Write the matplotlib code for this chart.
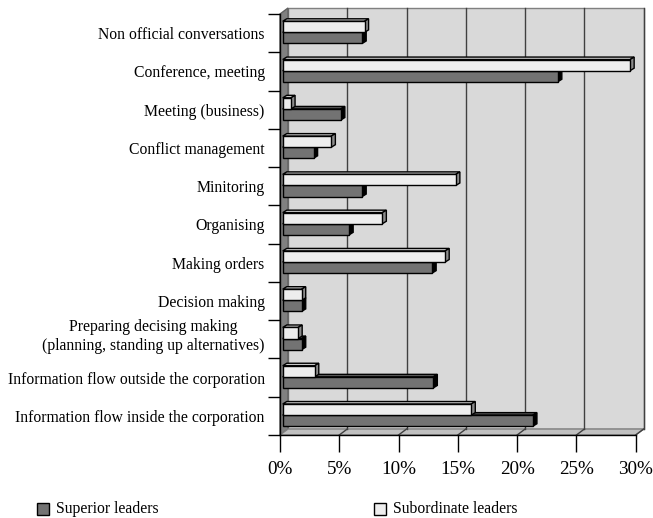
import matplotlib
matplotlib.use("Agg")
import matplotlib.pyplot as plt
from matplotlib.patches import Polygon, Rectangle
from matplotlib.transforms import ScaledTranslation

plt.rcParams["font.family"] = ["Liberation Serif", "DejaVu Serif"]

# categories listed bottom -> top (as drawn on the y axis)
categories = [
    "Information flow inside the corporation",
    "Information flow outside the corporation",
    "Preparing decising making\n(planning, standing up alternatives)",
    "Decision making",
    "Making orders",
    "Organising",
    "Minitoring",
    "Conflict management",
    "Meeting (business)",
    "Conference, meeting",
    "Non official conversations",
]
superior = [21.1, 12.7, 1.6, 1.6, 12.6, 5.6, 6.7, 2.6, 4.9, 23.2, 6.7]
subordinate = [15.9, 2.7, 1.3, 1.6, 13.7, 8.4, 14.6, 4.1, 0.7, 29.3, 6.9]
xticks = [0, 5, 10, 15, 20, 25, 30]

W, H = 653, 518
fig = plt.figure(figsize=(W / 100, H / 100), dpi=100)
ax = fig.add_axes([280 / W, 83 / H, 355.7 / W, 421 / H])
ax.set_xlim(0, 30)
ax.set_ylim(-0.5, len(categories) - 0.5)
ymin, ymax = -0.5, len(categories) - 0.5

# 3d depth of the walls (data units)
ddx, ddy = 0.675, 0.157
wall_edge = "#808080"

# back wall, left wall, floor
ax.add_patch(Polygon([(ddx, ymin + ddy), (30 + ddx, ymin + ddy), (30 + ddx, ymax + ddy), (ddx, ymax + ddy)],
                     closed=True, fc="#d9d9d9", ec=wall_edge, lw=1, clip_on=False, zorder=1))
ax.add_patch(Polygon([(0, ymin), (ddx, ymin + ddy), (ddx, ymax + ddy), (0, ymax)],
                     closed=True, fc="#808080", ec="#606060", lw=1, clip_on=False, zorder=1))
ax.add_patch(Polygon([(0, ymin), (30, ymin), (30 + ddx, ymin + ddy), (ddx, ymin + ddy)],
                     closed=True, fc="#c0c0c0", ec=wall_edge, lw=1, clip_on=False, zorder=1))
for t in xticks[1:]:
    ax.plot([t + ddx, t + ddx], [ymin + ddy, ymax + ddy], color="#404040", lw=1, zorder=1.5, clip_on=False)
    ax.plot([t, t + ddx], [ymin, ymin + ddy], color="#404040", lw=1, zorder=1.5, clip_on=False)

X0 = 0.23           # bars start slightly behind the front plane
BX, BY = 0.34, 0.065  # bar depth


def bar3d(y0, h, vals, front, top, side, z):
    for i, val in enumerate(vals):
        yb = i + y0
        x1 = X0 + val
        kw = dict(closed=True, ec="black", lw=1, clip_on=False, zorder=z, joinstyle="miter")
        ax.add_patch(Polygon([(X0, yb + h), (x1, yb + h), (x1 + BX, yb + h + BY), (X0 + BX, yb + h + BY)], fc=top, **kw))
        ax.add_patch(Polygon([(x1, yb), (x1 + BX, yb + BY), (x1 + BX, yb + h + BY), (x1, yb + h)], fc=side, **kw))
    ax.barh([i + y0 for i in range(len(vals))], vals, height=h, left=X0, align="edge",
            color=front, edgecolor="black", linewidth=1, zorder=z + 0.5)


bh = 0.29
bar3d(-0.27, bh, superior, "#737373", "#5a5a5a", "#000000", 3)
# white bars drawn above so they hide the grey bars' top faces
bar3d(0.02, bh, subordinate, "#eeeeee", "#c8c8c8", "#8c8c8c", 4)

# axes, ticks, labels
for s in ["top", "right"]:
    ax.spines[s].set_visible(False)
for s in ["left", "bottom"]:
    ax.spines[s].set_color("black")
    ax.spines[s].set_linewidth(1)
    ax.spines[s].set_zorder(2)
ax.set_xlim(0, 30)
ax.set_ylim(-0.5, len(categories) - 0.5)
ax.set_xticks(xticks)
ax.set_xticklabels([f"{t}%" for t in xticks], fontsize=13.8)
ax.tick_params(axis="x", direction="out", length=12, width=1, pad=7)
ax.set_yticks([k - 0.5 for k in range(len(categories) + 1)])
ax.set_yticklabels([])
ax.tick_params(axis="y", which="major", direction="out", length=9, width=1)
ax.set_yticks(range(len(categories)), minor=True)
ax.set_yticklabels(categories, minor=True, fontsize=11.3)
ax.tick_params(axis="y", which="minor", length=0, pad=11)
for lab in ax.get_yticklabels(minor=True):
    lab.set_multialignment("center")
    if "\n" in lab.get_text():
        lab.set_transform(lab.get_transform() + ScaledTranslation(0, 6 / 100, fig.dpi_scale_trans))
ax.set_facecolor("none")

# legend
for sx, tx, col, name in [(37, 56, "#737373", "Superior leaders"), (374, 393, "#eeeeee", "Subordinate leaders")]:
    fig.add_artist(Rectangle((sx / W, (H - 515) / H), 12 / W, 12 / H, transform=fig.transFigure,
                             fc=col, ec="black", lw=1))
    fig.text(tx / W, (H - 509) / H, name, fontsize=11.3, va="center", ha="left")

fig.savefig("out.png", dpi=100)
